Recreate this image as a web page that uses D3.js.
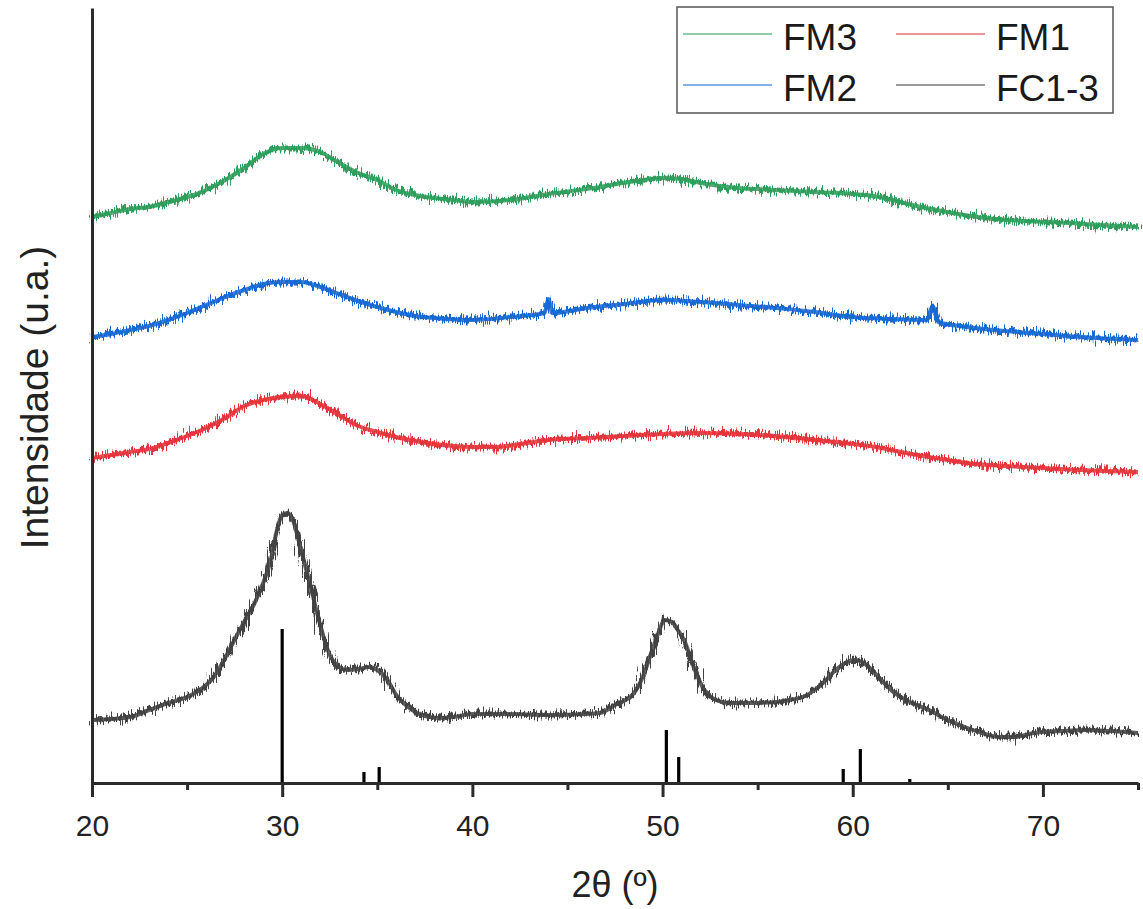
<!DOCTYPE html>
<html>
<head>
<meta charset="utf-8">
<script src="https://cdn.jsdelivr.net/npm/d3@7"></script>
<style>
  body { margin: 0; background: #fff; }
  svg { display: block; font-family: "Liberation Sans", Arial, sans-serif; }
</style>
</head>
<body>
<div id="graph"></div>
<script>
const fm3 = [[20,566],[21,570],[22,574],[23,576],[24,581],[25,586],[26,593],[27,603],[28,615],[29,629],[30,635],[31,635],[32,631],[33,620],[34,610],[35,603],[36,593],[37,588],[38,585],[39,583],[40,581],[42,583],[44,589],[46,594],[47.6,599],[49,603],[50,605],[51,604],[52,600],[54,595],[56,593],[58,591],[60,589],[61.4,586],[62.5,581],[63.6,576],[65,571],[67,565],[69,562],[71.4,560],[73,558],[75,556]];

const fm2 = [[20,446],[21,449],[22,453],[23,457],[24,463],[25,470],[26,478],[27,486],[28,493],[29,499],[30,501],[31,501],[32,496],[33,489],[34,482],[35,476],[36,471],[37,467],[38,465],[40,463],[42,466],[43.8,470],[44.0,484],[44.2,470],[46,475],[48,479],[50,483],[52,481],[54,478],[56,475],[58,471],[60,466],[62,464],[63.9,463],[64.2,477],[64.5,461],[66,456],[68,452],[70,449],[72,446],[75,443]];

const fm1 = [[20,325],[21,328],[22,331],[23,334],[24,340],[25,347],[26,355],[27,365],[28,377],[29,383],[30,386],[31,387],[32,379],[33,368],[34,357],[35,351],[36,346],[37,342],[38,339],[39,337],[40,336],[41.3,336],[42.5,339],[44,343],[46,345],[48,347],[50,349],[52,350],[54,349],[56,347],[58,343],[60,339],[61.2,336],[62,333],[64,326],[65,323],[66,320],[68,317],[70,315],[72,313],[75,311]];

const fc13 = [[20,63],[21,64],[22,66],[23,73],[24,80],[25,86],[25.5,91],[26,98],[26.4,106],[27,125],[27.3,136],[28,161],[28.5,178],[29,200],[29.4,223],[29.7,251],[30,268],[30.3,270],[30.6,261],[30.9,240],[31.2,218],[31.5,196],[32,158],[32.5,128],[33,116],[33.4,113],[34,114],[34.6,116],[35,113],[35.5,104],[36,88],[36.5,78],[37,71],[37.5,67],[38.3,65],[39,66],[40,69],[42,69],[44,68],[46,69],[46.7,70],[47.5,78],[48.5,90],[49,108],[49.4,130],[49.8,151],[50.1,163],[50.5,161],[50.8,153],[51.2,140],[51.6,118],[52.1,96],[52.8,83],[53.5,80],[54.8,80],[56,81],[56.7,83],[57.5,87],[58,93],[58.6,103],[59.1,113],[59.6,120],[60.1,123],[60.5,121],[60.9,115],[61.5,103],[62.2,90],[63,81],[64,73],[65,63],[65.9,56],[66.8,50],[67.7,46],[68.5,46],[69.5,50],[71,52],[72.2,53],[73.5,52],[75,50]];

// reference pattern sticks
const refPos = [30.0, 34.3, 35.1, 50.2, 50.85, 59.5, 60.4, 63.0];
const refInt = [154, 11, 16, 53, 26, 14, 34, 4];

const seriesNames = ["FM3", "FM2", "FM1", "FC1-3"];
const seriesColors = ["#2f9e5c", "#1767d2", "#e3343a", "#424242"];
const seriesData = [fm3, fm2, fm1, fc13];

const majorTicks = [20, 30, 40, 50, 60, 70];
const minorTicks = [25, 35, 45, 55, 65, 75];

const width = 1143;
const height = 909;
const marginLeft = 92;
const marginRight = 5;
const marginTop = 8;
const marginBottom = 126;

const x = d3.scaleLinear()
    .domain([20, 75])
    .range([marginLeft, width - marginRight]);

const y = d3.scaleLinear()
    .domain([0, 775])
    .range([height - marginBottom, marginTop]);

const svg = d3.create("svg")
    .attr("width", width)
    .attr("height", height);

svg.append("rect").attr("width", width).attr("height", height).attr("fill", "#fff");

// rough texture so the lines look like noisy counts
const filter = svg.append("defs").append("filter")
    .attr("id", "noisy")
    .attr("filterUnits", "userSpaceOnUse")
    .attr("x", 0).attr("y", 0).attr("width", width).attr("height", height);
filter.append("feTurbulence")
    .attr("type", "fractalNoise")
    .attr("baseFrequency", "0.85 0.05")
    .attr("numOctaves", 2)
    .attr("seed", 4)
    .attr("result", "t");
filter.append("feDisplacementMap")
    .attr("in", "SourceGraphic")
    .attr("in2", "t")
    .attr("scale", 17)
    .attr("xChannelSelector", "R")
    .attr("yChannelSelector", "G");

const line = d3.line()
    .x(d => x(d[0]))
    .y(d => y(d[1]))
    .curve(d3.curveMonotoneX);

const patterns = svg.append("g");

// solid core of each band
patterns.selectAll("path.core")
    .data(seriesData)
    .join("path")
    .attr("class", "core")
    .attr("fill", "none")
    .attr("stroke", (d, i) => seriesColors[i])
    .attr("stroke-opacity", 0.85)
    .attr("stroke-width", 4)
    .attr("stroke-linejoin", "round")
    .attr("d", d => line(d));

// noisy edges
patterns.selectAll("path.noise")
    .data(seriesData)
    .join("path")
    .attr("class", "noise")
    .attr("fill", "none")
    .attr("stroke", (d, i) => seriesColors[i])
    .attr("stroke-width", 5)
    .attr("stroke-linejoin", "round")
    .attr("filter", "url(#noisy)")
    .attr("d", d => line(d));

// reference sticks
svg.append("g")
    .selectAll("line")
    .data(refPos)
    .join("line")
    .attr("x1", d => x(d))
    .attr("x2", d => x(d))
    .attr("y1", y(0))
    .attr("y2", (d, i) => y(refInt[i]))
    .attr("stroke", "#000")
    .attr("stroke-width", 3.2);

// x axis
const xAxis = d3.axisBottom(x)
    .tickValues(majorTicks)
    .tickSize(14)
    .tickSizeOuter(0)
    .tickPadding(18)
    .tickFormat(d3.format("d"));

const gx = svg.append("g")
    .attr("transform", `translate(0,${y(0)})`)
    .call(xAxis);
gx.select(".domain").attr("stroke", "#2b2b2b").attr("stroke-width", 3);
gx.selectAll(".tick line").attr("stroke", "#2b2b2b").attr("stroke-width", 3);
gx.selectAll(".tick text")
    .attr("font-size", 30)
    .attr("fill", "#222")
    .attr("font-family", "Liberation Sans, Arial, sans-serif");

const gxMinor = svg.append("g")
    .attr("transform", `translate(0,${y(0)})`)
    .call(d3.axisBottom(x).tickValues(minorTicks).tickSize(7).tickSizeOuter(0).tickFormat(""));
gxMinor.select(".domain").remove();
gxMinor.selectAll(".tick line").attr("stroke", "#2b2b2b").attr("stroke-width", 3);

// y axis, line only
const gy = svg.append("g")
    .attr("transform", `translate(${marginLeft},0)`)
    .call(d3.axisLeft(y).tickValues([]).tickSizeOuter(0));
gy.select(".domain").attr("stroke", "#2b2b2b").attr("stroke-width", 3);

// axis titles
svg.append("text")
    .attr("x", 615)
    .attr("y", 897)
    .attr("text-anchor", "middle")
    .attr("font-size", 36)
    .attr("fill", "#222")
    .text("2θ (º)");

svg.append("text")
    .attr("transform", `translate(48,${(245 + 550) / 2}) rotate(-90)`)
    .attr("text-anchor", "middle")
    .attr("font-size", 39)
    .attr("fill", "#222")
    .text("Intensidade (u.a.)");

// legend
const legend = svg.append("g");
legend.append("rect")
    .attr("x", 677).attr("y", 7)
    .attr("width", 436).attr("height", 106)
    .attr("fill", "#fff")
    .attr("stroke", "#555")
    .attr("stroke-width", 1.5);

const legendOrder = [0, 2, 1, 3];
legendOrder.forEach((s, k) => {
    const col = k % 2, row = Math.floor(k / 2);
    const lx = col === 0 ? 683 : 896;
    const ly = row === 0 ? 34 : 85;
    legend.append("line")
        .attr("x1", lx).attr("x2", lx + 89)
        .attr("y1", ly).attr("y2", ly)
        .attr("stroke", seriesColors[s])
        .attr("stroke-opacity", 0.7)
        .attr("stroke-width", 1.5);
    legend.append("text")
        .attr("x", lx + 100)
        .attr("y", ly + 16)
        .attr("font-size", 37)
        .attr("fill", "#1a1a1a")
        .text(seriesNames[s]);
});

document.getElementById("graph").appendChild(svg.node());
</script>
</body>
</html>
